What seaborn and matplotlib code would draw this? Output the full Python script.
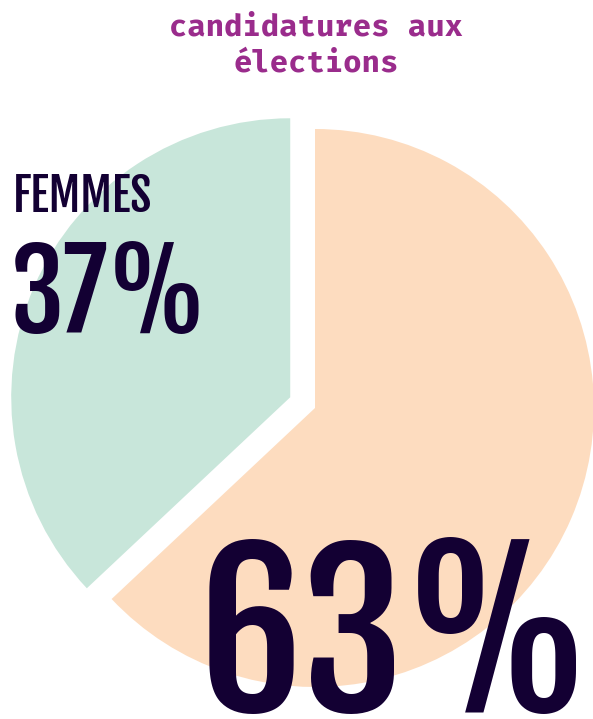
import matplotlib.pyplot as plt
import seaborn as sns

# data
labels = ['Hommes', 'Femmes']
values = [63, 37]
colors = ['#FDDCBF', '#C8E6DA']
title_lines = ['candidatures aux', 'élections']
label_femmes = 'FEMMES'
pct_femmes = '37%'
pct_hommes = '63%'

sns.set_theme(style='white')
plt.rcParams['font.family'] = ['DejaVu Sans']

narrow = ['Fjalla One', 'Barlow Condensed', 'DejaVu Sans']
mono = ['Fira Mono', 'IBM Plex Mono', 'DejaVu Sans Mono']
dark = '#130033'

fig = plt.figure(figsize=(5.93, 7.19), dpi=100)
ax = fig.add_axes([0, 0, 1, 1])

# pie drawn in pixel-like data units (y up)
ax.pie(values, colors=colors, startangle=90, counterclock=False,
       explode=[0, 27], radius=279, center=(315, 311),
       wedgeprops=dict(linewidth=0))
ax.set_xlim(0, 593)
ax.set_ylim(0, 719)
ax.set_aspect('equal')
ax.axis('off')

for i, line in enumerate(title_lines):
    ax.text(316, 684 - i * 36, line, ha='center', va='baseline',
            family=mono, fontweight='bold', fontsize=22, color='#9A2C8C')

ax.text(13, 507, label_femmes, ha='left', va='baseline', family=narrow,
        fontweight='bold', fontsize=33, color=dark)
ax.text(11, 386, pct_femmes, ha='left', va='baseline', family=narrow,
        fontweight='bold', fontsize=78, color=dark)
ax.text(592, 6, pct_hommes, ha='right', va='baseline', family=narrow,
        fontweight='bold', fontsize=148, color=dark)

fig.savefig('out.png', dpi=100)
